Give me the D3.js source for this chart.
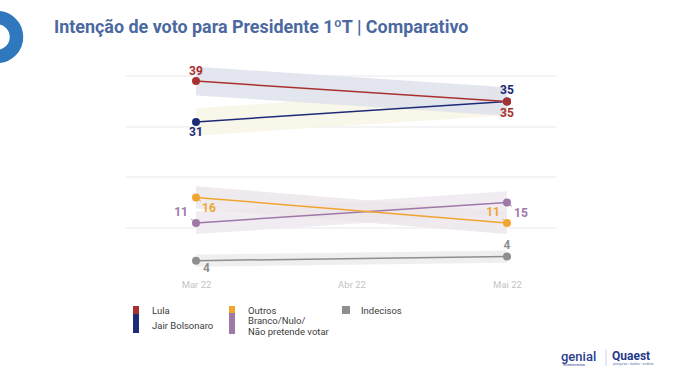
<!DOCTYPE html>
<html>
<head>
<meta charset="utf-8">
<script src="https://cdn.jsdelivr.net/npm/d3@7"></script>
<style>
  body { margin: 0; background: #fff; }
  svg { font-family: Roboto, "Noto Sans", sans-serif; }
</style>
</head>
<body>
<div id="chart"></div>
<script>
// data
const months = ["Mar 22", "Abr 22", "Mai 22"];
const seriesNames = ["Lula", "Jair Bolsonaro", "Outros", "Branco/Nulo/Não pretende votar", "Indecisos"];
const lulaVals = [39, 35];
const bolsonaroVals = [31, 35];
const outrosVals = [16, 11];
const brancoVals = [11, 15];
const indecisosVals = [3.6, 4.4];
const pointMonths = ["Mar 22", "Mai 22"];
const topGrid = [40, 30];
const bottomGrid = [20, 10];

const W = 680, H = 381;

let svg = d3.select("#chart").append("svg")
    .attr("width", W)
    .attr("height", H);

// logo ring at the left edge
svg.append("circle")
    .attr("cx", -3).attr("cy", 37)
    .attr("r", 19.5)
    .attr("fill", "none")
    .attr("stroke", "#2f78bd")
    .attr("stroke-width", 13.5);

// title
svg.append("text")
    .attr("x", 54).attr("y", 33)
    .attr("fill", "#4b69a0")
    .style("font-size", "17.9px")
    .style("font-weight", "bold")
    .text("Intenção de voto para Presidente 1ºT | Comparativo");

let x = d3.scalePoint()
    .domain(months)
    .range([196, 507]);

// broken axis: two panels, same scale
let yTop = d3.scaleLinear().domain([30, 40]).range([127, 76]);
let yBot = d3.scaleLinear().domain([10, 20]).range([228, 177]);

// gridlines
svg.append("g").selectAll("line")
    .data(topGrid.map(v => yTop(v)).concat(bottomGrid.map(v => yBot(v))))
    .enter().append("line")
    .attr("x1", 125).attr("x2", 556)
    .attr("y1", d => d).attr("y2", d => d)
    .attr("stroke", "#e9e9ec")
    .attr("stroke-width", 1);

// x axis labels
let xAxis = svg.append("g")
    .attr("transform", "translate(0,288)")
    .call(d3.axisBottom(x).tickSize(0).tickPadding(0));
xAxis.select(".domain").remove();
xAxis.selectAll("text")
    .attr("fill", "#c4c4c4")
    .style("font-size", "9.5px")
    .style("font-family", "Roboto, sans-serif")
    .attr("dy", 0);

const series = [
  { name: seriesNames[0], vals: lulaVals, y: yTop, color: "#a8312f", band: "#dfe2ec", err: 2.8,
    labels: [{dx: 0, dy: -6, a: "middle"}, {dx: 0, dy: 15, a: "middle"}] },
  { name: seriesNames[1], vals: bolsonaroVals, y: yTop, color: "#1d2a78", band: "#f8f4e6", err: 2.7,
    labels: [{dx: 0, dy: 14, a: "middle"}, {dx: 0, dy: -8, a: "middle"}] },
  { name: seriesNames[2], vals: outrosVals, y: yBot, color: "#f0a531", band: "#ece6ea", err: 2.2,
    labels: [{dx: 6, dy: 15, a: "start", lead: true}, {dx: -7, dy: -7, a: "end", lead: true}] },
  { name: seriesNames[3], vals: brancoVals, y: yBot, color: "#9f78a8", band: "#efe9ee", err: 2.2,
    labels: [{dx: -8, dy: -7, a: "end", lead: true}, {dx: 7, dy: 14, a: "start", lead: true}] },
  { name: seriesNames[4], vals: indecisosVals, y: yBot, color: "#8e8e8e", band: "#ececec", err: 1.2,
    labels: [{dx: 7, dy: 11, a: "start"}, {dx: 0, dy: -8, a: "middle"}] }
];

// drawing order: Lula on top of Bolsonaro
const drawOrder = [1, 0, 3, 2, 4];

// confidence bands
drawOrder.forEach(function(k) {
  let s = series[k];
  let area = d3.area()
      .x((d, i) => x(pointMonths[i]))
      .y0(d => s.y(d - s.err))
      .y1(d => s.y(d + s.err));
  svg.append("path")
      .datum(s.vals)
      .attr("d", area)
      .attr("fill", s.band)
      .attr("opacity", 0.85);
});

// lines, points and labels
drawOrder.forEach(function(k) {
  let s = series[k];
  let line = d3.line()
      .x((d, i) => x(pointMonths[i]))
      .y(d => s.y(d));
  svg.append("path")
      .datum(s.vals)
      .attr("d", line)
      .attr("fill", "none")
      .attr("stroke", s.color)
      .attr("stroke-width", 1.5);

  svg.append("g").selectAll("circle")
      .data(s.vals)
      .enter().append("circle")
      .attr("cx", (d, i) => x(pointMonths[i]))
      .attr("cy", d => s.y(d))
      .attr("r", 4)
      .attr("fill", s.color);

  s.vals.forEach(function(v, i) {
    let L = s.labels[i];
    let px = x(pointMonths[i]), py = s.y(v);
    if (L.lead) {
      svg.append("line")
          .attr("x1", px).attr("y1", py)
          .attr("x2", px + (L.dx > 0 ? 5 : -5)).attr("y2", py + (L.dy > 0 ? 4 : -4))
          .attr("stroke", s.color)
          .attr("stroke-width", 0.8);
    }
    svg.append("text")
        .attr("x", px + L.dx)
        .attr("y", py + L.dy)
        .attr("text-anchor", L.a)
        .attr("fill", s.color)
        .style("font-size", "12px")
        .style("font-weight", "bold")
        .text(d3.format(".0f")(v));
  });
});

// legend
const legendCols = [
  { x: 133, items: [{ label: ["Lula"], color: series[0].color, h: 8 },
                    { label: ["Jair Bolsonaro"], color: series[1].color, h: 19 }] },
  { x: 229, items: [{ label: ["Outros"], color: series[2].color, h: 7 },
                    { label: ["Branco/Nulo/", "Não pretende votar"], color: series[3].color, h: 21 }] },
  { x: 342, items: [{ label: ["Indecisos"], color: series[4].color, h: 8 }] }
];
const legendTextY = [[311, 326], [311, [321, 332]], [311]];

legendCols.forEach(function(col, c) {
  let yy = 306;
  col.items.forEach(function(it, k) {
    svg.append("rect")
        .attr("x", col.x).attr("y", yy)
        .attr("width", c === 2 ? 8 : 6).attr("height", it.h)
        .attr("fill", it.color);
    yy += it.h;
    let ty = legendTextY[c][k];
    let tys = Array.isArray(ty) ? ty : [ty];
    it.label.forEach(function(t, j) {
      svg.append("text")
          .attr("x", col.x + 19)
          .attr("y", tys[j] + 3)
          .attr("fill", "#3c3c3c")
          .style("font-size", "9.5px")
          .text(t);
    });
  });
});

// footer logos
svg.append("text")
    .attr("x", 561).attr("y", 361)
    .attr("fill", "#2a3f8f")
    .style("font-size", "13px")
    .style("font-weight", "500")
    .text("genial");
svg.append("text")
    .attr("x", 563).attr("y", 366)
    .attr("fill", "#2a3f8f")
    .style("font-size", "3.5px")
    .text("investimentos");
svg.append("line")
    .attr("x1", 606).attr("x2", 606)
    .attr("y1", 349).attr("y2", 366)
    .attr("stroke", "#c9d3e6");
svg.append("text")
    .attr("x", 612).attr("y", 360)
    .attr("fill", "#1f3a8a")
    .style("font-size", "12px")
    .style("font-weight", "bold")
    .text("Quaest");
svg.append("text")
    .attr("x", 613).attr("y", 365)
    .attr("fill", "#6b7fb3")
    .style("font-size", "3.5px")
    .text("pesquisa • dados • análise");
</script>
</body>
</html>
